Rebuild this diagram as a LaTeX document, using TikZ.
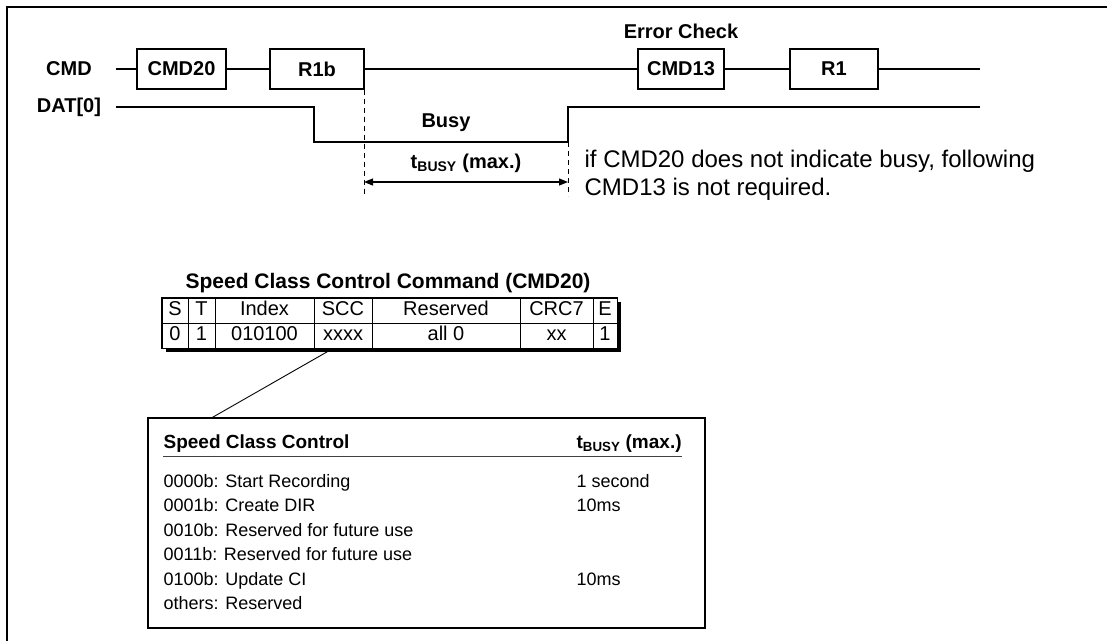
\documentclass[tikz,border=0pt]{standalone}
\usepackage{fontspec}
\setmainfont{Liberation Sans}
\usetikzlibrary{positioning,arrows.meta,backgrounds}

\begin{document}
\begin{tikzpicture}[
        x=1pt, y=-1pt,
        line width=1.2pt,
        lbl/.style={font=\fontsize{20}{24}\selectfont\bfseries, inner sep=0pt},
        sig/.style={draw, lbl, minimum height=40pt},
        cell/.style={draw, fill=white, line width=0.9pt, minimum height=25pt, inner sep=0pt,
            text height=14.5pt, text depth=4pt, font=\fontsize{20}{24}\selectfont},
        entry/.style={anchor=base west, inner sep=0pt, font=\fontsize{18}{22}\selectfont},
        tip/.tip={Triangle[length=9pt,width=7pt]}
    ]
    \useasboundingbox (0,0) rectangle (1107,641);
    \draw[line width=2.2pt] (7,641) -- (7,7) -- (1107,7);

    % CMD line
    \node[lbl] (cmd) at (69,69) {CMD};
    \node[sig, minimum width=89pt] (cmd20) at (181.5,69) {CMD20};
    \node[sig, minimum width=94pt] (r1b) at (317,69) {R1b};
    \node[sig, minimum width=86pt] (cmd13) at (681,69) {CMD13};
    \node[sig, minimum width=88pt] (r1) at (834,69) {R1};
    \node[lbl, above=9pt of cmd13] (errchk) {Error Check};
    \coordinate (cmd-a) at (116,69);
    \coordinate (cmd-b) at (980,69);
    \draw (cmd-a) -- (cmd20) -- (r1b) -- (cmd13) -- (r1) -- (cmd-b);

    % DAT[0] line
    \node[lbl] (dat) at (69,107) {DAT[0]};
    \node[lbl] (busy) at (446,123) {Busy};
    \coordinate (dat-a) at (116,107);
    \coordinate (dat-fall) at (314,107);
    \coordinate (dat-rise) at (568,142);
    \coordinate (dat-b) at (980,107);
    \draw (dat-a) -- (dat-fall) |- (dat-rise) |- (dat-b);

    \coordinate (dash-bot) at (0,196);
    \coordinate (tb-l) at (364,182);
    \coordinate (tb-r) at (568,182);
    \draw[line width=0.9pt, dash pattern=on 5pt off 4pt] (r1b.south east) -- (r1b.south east |- dash-bot);
    \draw[line width=0.9pt, dash pattern=on 5pt off 4pt] (dat-rise) -- (dat-rise |- dash-bot);
    \draw[tip-tip] (tb-l) -- (tb-r);
    \node[lbl] (tbusy) at (466,163) {t\textsubscript{BUSY} (max.)};

    \node[anchor=west, align=left, inner sep=0pt, font=\fontsize{24}{28}\selectfont] (note) at (584,175)
        {if CMD20 does not indicate busy, following\\CMD13 is not required.};

    % command format
    \node[lbl, font=\fontsize{21}{24}\selectfont\bfseries] (title) at (388,283) {Speed Class Control Command (CMD20)};
    \foreach \name/\xa/\xb/\hd/\val in {s/162/188/S/0, t/188/215/T/1, idx/215/314/Index/010100,
            scc/314/372/SCC/xxxx, rsv/372/520/Reserved/all 0, crc/520/593/CRC7/xx, e/593/617/E/1} {
        \node[cell, minimum width={\xb-\xa}] (\name-h) at ({(\xa+\xb)/2},310.5) {\hd};
        \node[cell, minimum width={\xb-\xa}] (\name-v) at ({(\xa+\xb)/2},335.5) {\val};
    }
    \draw[line width=1.8pt] (s-h.north west) rectangle (e-v.south east);
    \begin{scope}[on background layer]
        \fill ([shift={(4,4)}]s-h.north west) rectangle ([shift={(4,4)}]e-v.south east);
    \end{scope}

    % speed class control box
    \node[draw, minimum width=557pt, minimum height=210pt, inner sep=0pt] (ctl) at (426.5,523) {};
    \draw[line width=0.9pt] ([xshift=-10pt]scc-v.south) -- ([xshift=65pt]ctl.north west);

    \node[lbl, anchor=base west, font=\fontsize{19}{23}\selectfont\bfseries] (hd) at (163,448) {Speed Class Control};
    \node[lbl, anchor=base west, font=\fontsize{19}{23}\selectfont\bfseries] (hdt) at (576,448) {t\textsubscript{BUSY} (max.)};
    \coordinate (ul-a) at (163,456);
    \draw[line width=1pt, black!75] (ul-a) -- (hdt.east |- ul-a);
    \foreach \txt/\tm [count=\i] in {0000b: Start Recording/1 second, 0001b: Create DIR/10ms,
            0010b: Reserved for future use/, 0011b: Reserved for future use/,
            0100b: Update CI/10ms, others: Reserved/} {
        \node[entry] (ent\i) at (163,{463+24.4*\i}) {\txt};
        \node[entry] (tm\i) at (576,{463+24.4*\i}) {\tm};
    }

\end{tikzpicture}
\end{document}
